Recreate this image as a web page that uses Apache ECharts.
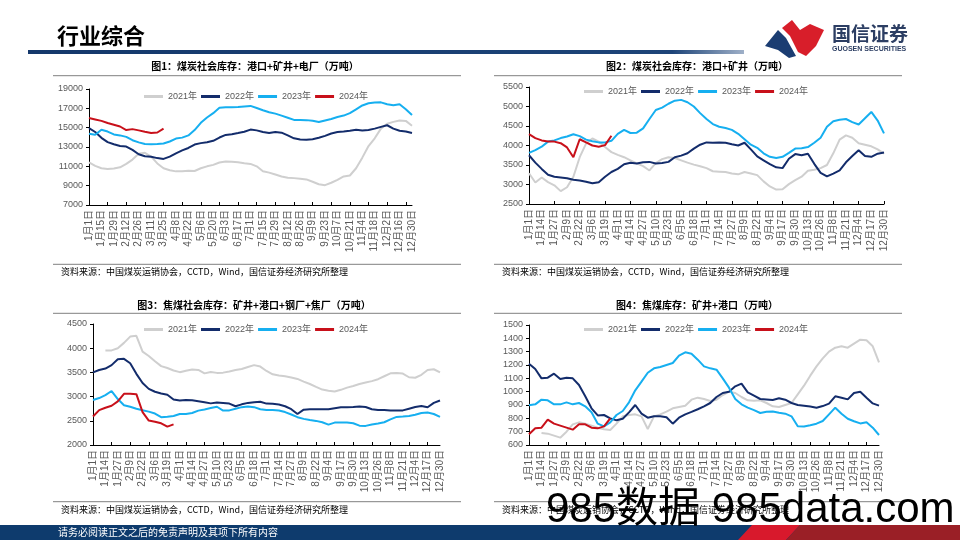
<!DOCTYPE html>
<html><head><meta charset="utf-8">
<script src="https://cdn.jsdelivr.net/npm/echarts@6/dist/echarts.min.js"></script>
<style>html,body{margin:0;padding:0;background:#fff}#c{width:960px;height:540px}</style>
</head><body><div id="c"></div>
<script>
// ---------- data ----------
const years = ['2021年', '2022年', '2023年', '2024年'];
// sample days (day of year, 0 = 1月1日) for chart 1, weekly
const days1 = [0,7,14,21,28,35,42,49,56,63,70,77,84,91,98,105,112,119,126,133,140,147,154,161,168,175,182,189,196,203,210,217,224,231,238,245,252,259,266,273,280,287,294,301,308,315,322,329,336,343,350,357,364];
// sample days for charts 2-4
const days2 = [0,7,13,20,26,33,39,46,52,59,65,72,78,85,91,98,104,111,117,124,130,137,143,150,156,163,169,176,182,189,195,202,208,215,221,228,234,241,247,254,260,267,273,280,286,293,299,306,312,319,325,332,338,345,351,358,364];

const c1_2021 = [11420,11050,10800,10730,10780,10900,11250,11700,12300,12400,12000,11300,10800,10600,10480,10500,10550,10520,10800,11000,11150,11400,11500,11480,11420,11330,11250,11000,10500,10350,10150,9950,9820,9780,9720,9650,9400,9150,9050,9300,9600,9950,10050,10800,11900,13100,13900,14900,15400,15600,15750,15700,15200];
const c1_2022 = [14950,14550,13950,13500,13280,13100,13050,12700,12250,12050,12000,11850,11770,12000,12350,12650,12900,13250,13400,13500,13640,13980,14250,14330,14450,14580,14800,14720,14550,14450,14550,14480,14200,13900,13780,13740,13800,13950,14150,14400,14550,14600,14680,14780,14700,14750,14900,15080,15250,14900,14680,14600,14450];
const c1_2023 = [14380,14260,14780,14600,14300,14200,14050,13700,13480,13320,13280,13300,13360,13570,13870,13970,14200,14750,15500,16050,16500,17050,17100,17100,17130,17200,17250,17030,16800,16600,16450,16250,16030,15800,15800,15780,15720,15580,15750,15900,16100,16250,16500,16900,17300,17520,17600,17620,17430,17320,17420,16900,16300];
const c1_2024 = [16000,15850,15700,15480,15300,15120,14750,14850,14720,14580,14450,14500,14900];

const c2_2021 = [3290,3050,3180,3060,2980,2830,2930,3200,3700,4050,4180,4100,3960,3830,3760,3700,3620,3540,3470,3360,3550,3650,3700,3680,3620,3560,3510,3470,3420,3340,3330,3320,3280,3260,3320,3280,3240,3080,2950,2870,2880,3010,3110,3200,3350,3380,3420,3500,3800,4150,4260,4200,4060,4020,3980,3900,3790];
const c2_2022 = [3750,3560,3400,3250,3200,3180,3160,3120,3100,3070,3030,3060,3200,3320,3400,3520,3560,3540,3570,3580,3540,3550,3580,3700,3740,3800,3920,4020,4080,4070,4080,4070,4030,4000,4070,3900,3720,3620,3520,3440,3420,3660,3780,3750,3790,3530,3300,3210,3280,3360,3570,3730,3880,3730,3710,3790,3820];
const c2_2023 = [3810,3880,3970,4100,4130,4190,4230,4290,4240,4150,4110,4080,4080,4120,4300,4400,4320,4330,4440,4680,4910,4970,5070,5150,5170,5110,5000,4830,4680,4550,4480,4450,4400,4300,4160,4020,3940,3800,3710,3680,3710,3810,3920,3930,3960,4070,4200,4480,4620,4660,4680,4600,4540,4700,4860,4640,4310];
const c2_2024 = [4290,4190,4130,4100,4100,4060,3950,3700,4160,4080,4000,3970,4010,4250];

const c3_2021 = [null,null,3950,3955,4000,4110,4240,4255,3930,3840,3730,3630,3590,3540,3505,3535,3560,3550,3480,3510,3490,3495,3520,3550,3570,3610,3650,3620,3530,3460,3435,3420,3395,3365,3310,3260,3200,3145,3120,3105,3140,3185,3220,3260,3290,3320,3360,3420,3480,3490,3475,3400,3390,3450,3550,3565,3500];
const c3_2022 = [3500,3550,3580,3650,3770,3780,3690,3470,3280,3160,3100,3065,3040,2940,2920,2930,2925,2905,2885,2860,2880,2870,2855,2800,2840,2870,2885,2895,2855,2850,2835,2800,2740,2640,2730,2740,2740,2740,2740,2760,2780,2780,2785,2795,2785,2740,2725,2725,2712,2712,2715,2750,2785,2805,2780,2870,2920];
const c3_2023 = [2930,2970,3030,3115,2950,2820,2790,2750,2720,2690,2650,2575,2585,2600,2640,2642,2660,2710,2735,2765,2790,2711,2715,2750,2782,2794,2782,2740,2725,2722,2712,2680,2630,2575,2540,2515,2498,2470,2420,2463,2463,2463,2450,2400,2395,2425,2445,2470,2530,2580,2587,2600,2625,2660,2670,2640,2580];
const c3_2024 = [2590,2720,2770,2810,2900,3057,3057,3050,2680,2504,2480,2449,2380,2425];

const c4_2021 = [null,null,690,685,670,655,700,755,770,760,745,730,718,712,760,815,825,830,815,720,815,830,850,875,885,895,940,955,945,930,940,975,1000,990,960,935,932,935,915,890,885,900,915,980,1045,1120,1190,1250,1300,1330,1340,1330,1360,1390,1385,1340,1220];
const c4_2022 = [1210,1170,1100,1105,1135,1095,1105,1100,1050,965,875,822,825,800,785,797,845,900,835,805,815,815,808,760,805,830,848,868,890,915,960,990,1000,1040,1060,995,970,945,942,938,950,940,915,900,895,888,880,892,910,965,955,942,990,1000,955,912,895];
const c4_2023 = [898,905,940,935,905,905,920,905,915,890,845,760,740,770,825,855,920,1010,1075,1142,1175,1185,1200,1215,1270,1295,1285,1240,1190,1175,1165,1100,1030,945,905,880,862,840,850,852,842,835,815,740,738,748,760,780,830,880,835,797,778,762,770,730,675];
const c4_2024 = [680,725,730,790,760,745,730,715,755,755,730,725,740,800];

const titles = ['图1：煤炭社会库存：港口+矿井+电厂（万吨）','图2：煤炭社会库存：港口+矿井（万吨）','图3：焦煤社会库存：矿井+港口+钢厂+焦厂（万吨）','图4：焦煤库存：矿井+港口（万吨）'];
const sourceText = '资料来源：中国煤炭运销协会，CCTD，Wind，国信证券经济研究所整理';

// ---------- helpers ----------
function dayLabel(d){ const t = new Date(2024,0,1+d); return (t.getMonth()+1)+'月'+t.getDate()+'日'; }
const cats1 = days1.map(dayLabel);
const cats2 = days2.map(dayLabel);

const colors = ['#cfcfcf','#132c6b','#16aff0','#c8101a'];
const FONT = '"Liberation Sans", "Noto Sans CJK SC", sans-serif';
const CJK = '"Noto Sans CJK SC", sans-serif';

const charts = [
  {grid:{left:89,top:89,width:323,height:116}, cats:cats1, y:[7000,19000,2000], tick:2, data:[c1_2021,c1_2022,c1_2023,c1_2024], legend:{left:144,top:92}},
  {grid:{left:529,top:87,width:355,height:117}, cats:cats2, y:[2500,5500,500], tick:3, data:[c2_2021,c2_2022,c2_2023,c2_2024], legend:{left:584,top:87}},
  {grid:{left:93,top:324,width:347,height:121}, cats:cats2, y:[2000,4500,500], tick:2, data:[c3_2021,c3_2022,c3_2023,c3_2024], legend:{left:144,top:325}},
  {grid:{left:529,top:325,width:350,height:120}, cats:cats2, y:[600,1500,100], tick:2, data:[c4_2021,c4_2022,c4_2023,c4_2024], legend:{left:584,top:325}}
];

const grid = [], xAxis = [], yAxis = [], series = [], legend = [];
charts.forEach((c, i) => {
  grid.push(Object.assign({containLabel:false}, c.grid));
  xAxis.push({
    type:'category', gridIndex:i, data:c.cats, boundaryGap:false,
    axisLine:{lineStyle:{color:'#000',width:1}},
    axisTick:{inside:true,length:3,interval:c.tick,lineStyle:{color:'#000'}},
    axisLabel:{rotate:90,interval:1,fontSize:10,color:'#595959',margin:5,fontFamily:FONT},
    splitLine:{show:false}
  });
  yAxis.push({
    type:'value', gridIndex:i, min:c.y[0], max:c.y[1], interval:c.y[2],
    axisLine:{show:true,lineStyle:{color:'#000',width:1}},
    axisTick:{show:true,length:3,lineStyle:{color:'#000'}},
    axisLabel:{fontSize:9,color:'#595959',margin:6,fontFamily:FONT,formatter:v => String(v)},
    splitLine:{show:false}
  });
  years.forEach((y, j) => {
    series.push({
      type:'line', name:y, xAxisIndex:i, yAxisIndex:i, data:c.data[j],
      symbol:'none', connectNulls:false, z:2+j,
      lineStyle:{width:2,color:colors[j]}, itemStyle:{color:colors[j]}
    });
  });
  legend.push({
    data:years, left:c.legend.left, top:c.legend.top, padding:0,
    icon:'rect', itemWidth:19, itemHeight:3, itemGap:4,
    textStyle:{fontSize:9,color:'#595959',fontFamily:FONT}
  });
});

// ---------- page decoration ----------
const g = [];
// header
g.push({type:'text', left:57, top:25, style:{text:'行业综合', font:'bold 22px '+CJK, fill:'#000'}});
g.push({type:'rect', shape:{x:28,y:50,width:716,height:4}, style:{fill:new echarts.graphic.LinearGradient(0,0,1,0,[{offset:0,color:'#14386b'},{offset:0.9,color:'#1d4478'},{offset:1,color:'#9fb0c8'}])}});
// logo
g.push({type:'polygon', shape:{points:[[765,46],[778,30],[786,38],[796,56],[789,58],[778,50]]}, style:{fill:'#1b3d72'}});
g.push({type:'polygon', shape:{points:[[782,28],[792,20],[800,30],[810,24],[824,30],[816,46],[806,56],[798,52],[790,36]]}, style:{fill:'#d81e2a'}});
g.push({type:'text', left:832, top:24, style:{text:'国信证券', font:'bold 19px '+CJK, fill:'#2c3e63'}});
g.push({type:'text', left:832, top:46, style:{text:'GUOSEN SECURITIES', font:'bold 7px '+FONT, fill:'#2c3e63'}});

// chart titles, separators, sources
const panels = [
  {cx:255, ty:66.7, l1:75.7, x0:53, x1:461, l2:264.3, sy:272, sx:61},
  {cx:697, ty:66.7, l1:75.7, x0:494, x1:902, l2:264.3, sy:272, sx:502},
  {cx:254, ty:305, l1:313.3, x0:53, x1:461, l2:501.7, sy:510, sx:61},
  {cx:697, ty:305, l1:313.3, x0:494, x1:902, l2:501.7, sy:510, sx:502}
];
panels.forEach((p, i) => {
  g.push({type:'text', style:{x:p.cx, y:p.ty, text:titles[i], font:'bold 10px '+CJK, fill:'#000', textAlign:'center', textVerticalAlign:'middle'}});
  g.push({type:'line', shape:{x1:p.x0,y1:p.l1,x2:p.x1,y2:p.l1}, style:{stroke:'#808080',lineWidth:1}});
  g.push({type:'line', shape:{x1:p.x0,y1:p.l2,x2:p.x1,y2:p.l2}, style:{stroke:'#808080',lineWidth:1}});
  g.push({type:'text', style:{x:p.sx, y:p.sy, text:sourceText, font:'9px '+CJK, fill:'#000', textAlign:'left', textVerticalAlign:'middle'}});
});

// footer
g.push({type:'rect', shape:{x:0,y:525,width:960,height:15}, style:{fill:'#0e3b6d'}});
g.push({type:'polygon', shape:{points:[[738,540],[752,525],[800,525],[786,540]]}, style:{fill:'#d8192c'}});
g.push({type:'polygon', shape:{points:[[786,540],[800,525],[960,525],[960,540]]}, style:{fill:'#9a1f26'}});
g.push({type:'text', style:{x:58, y:532.5, text:'请务必阅读正文之后的免责声明及其项下所有内容', font:'10px '+CJK, fill:'#fff', textAlign:'left', textVerticalAlign:'middle'}});
// watermark
g.push({type:'text', z:100, style:{x:546, y:510, text:'985数据 985data.com', font:'42px '+FONT, fill:'#000', textAlign:'left', textVerticalAlign:'middle'}});

const chart = echarts.init(document.getElementById('c'), null, {renderer:'canvas'});
chart.setOption({
  animation:false,
  backgroundColor:'#fff',
  textStyle:{fontFamily:FONT},
  grid, xAxis, yAxis, series, legend,
  graphic:{elements:g}
});
</script></body></html>
